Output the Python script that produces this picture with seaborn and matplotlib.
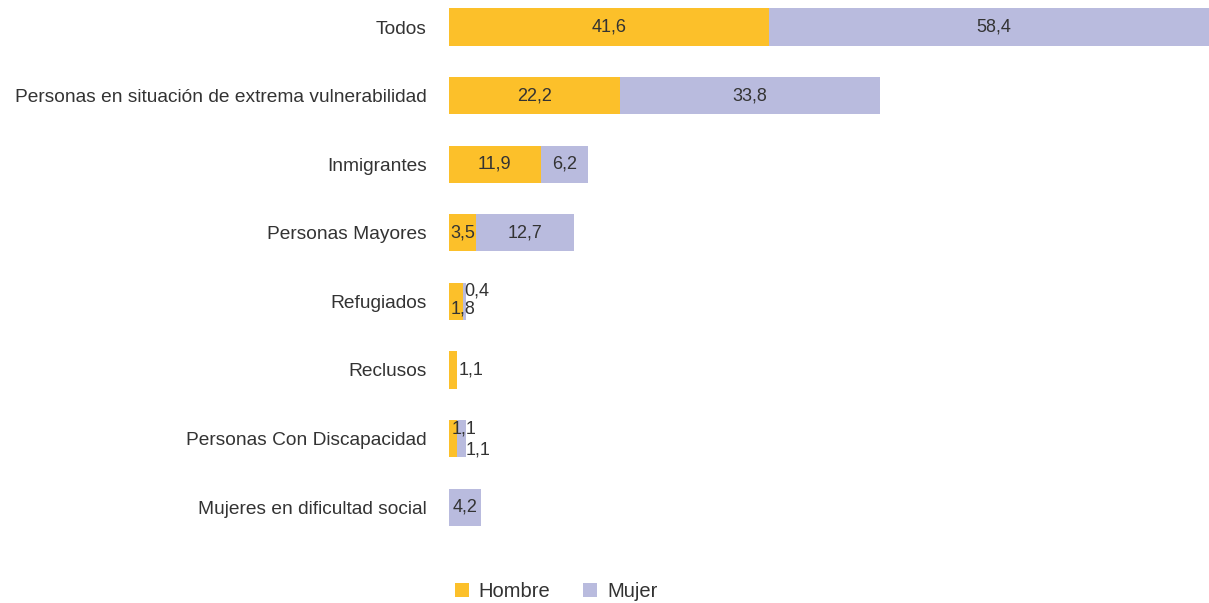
import matplotlib
matplotlib.use("Agg")
import matplotlib.pyplot as plt
from matplotlib.patches import Patch
import seaborn as sns
import pandas as pd

categorias = [
    "Todos",
    "Personas en situación de extrema vulnerabilidad",
    "Inmigrantes",
    "Personas Mayores",
    "Refugiados",
    "Reclusos",
    "Personas Con Discapacidad",
    "Mujeres en dificultad social",
]
hombre = [41.6, 22.2, 11.9, 3.5, 1.8, 1.1, 1.1, 0.0]
mujer = [58.4, 33.8, 6.2, 12.7, 0.4, 0.0, 1.1, 4.2]
series = ["Hombre", "Mujer"]

COL_H = "#FCC02A"
COL_M = "#B9BBDE"
TXT = "#333333"

sns.set_theme(style="white")
plt.rcParams["font.family"] = ["Liberation Sans", "DejaVu Sans"]

df = pd.DataFrame({"categoria": categorias, "hombre": hombre, "mujer": mujer})
df["total"] = df["hombre"] + df["mujer"]

fig = plt.figure(figsize=(12.09, 6.03), dpi=100)
ax = fig.add_axes([449 / 1209, 0.0, 1 - 449 / 1209, 1.0])

# Stacked bars: full total in the Mujer colour, Hombre drawn over it from zero
sns.barplot(data=df, y="categoria", x="total", color=COL_M, orient="h",
            width=0.54, ax=ax, saturation=1, linewidth=0)
sns.barplot(data=df, y="categoria", x="hombre", color=COL_H, orient="h",
            width=0.54, ax=ax, saturation=1, linewidth=0)

ax.set_xlim(0, 760 / 7.7)
ax.set_ylim((603 - 27) / 68.6, -27 / 68.6)
ax.set_xlabel("")
ax.set_ylabel("")
ax.set_xticks([])
for s in ax.spines.values():
    s.set_visible(False)
ax.tick_params(axis="y", length=0, pad=16, labelsize=13.8, labelcolor=TXT)


def fmt(v):
    return f"{v:.1f}".replace(".", ",")


# Placement for labels of narrow segments: (anchor, ha, dx, dy) in pixels
pequenos = {
    ("Refugiados", "Hombre"): ("end", "center", 0, -8),
    ("Refugiados", "Mujer"): ("start", "left", 1, 10),
    ("Reclusos", "Hombre"): ("end", "left", 1, 0),
    ("Personas Con Discapacidad", "Hombre"): ("end", "center", 7, 10),
    ("Personas Con Discapacidad", "Mujer"): ("end", "left", 0, -11),
}

for i, row in df.iterrows():
    segs = [("Hombre", 0.0, row["hombre"]), ("Mujer", row["hombre"], row["mujer"])]
    for nombre, inicio, valor in segs:
        if valor <= 0:
            continue
        clave = (row["categoria"], nombre)
        if clave in pequenos:
            anchor, ha, dx, dy = pequenos[clave]
            x = inicio + valor if anchor == "end" else inicio
        else:
            x, ha, dx, dy = inicio + valor / 2, "center", 0, 0
        ax.annotate(fmt(valor), xy=(x, i), xytext=(dx, dy),
                    textcoords="offset pixels", ha=ha, va="center",
                    fontsize=13, color=TXT)

handles = [Patch(facecolor=COL_H, edgecolor="none"),
           Patch(facecolor=COL_M, edgecolor="none")]
fig.legend(handles, series, loc="lower center", bbox_to_anchor=(556 / 1209, -0.027),
           ncol=2, frameon=False, fontsize=14.5, handlelength=0.7,
           handleheight=0.7, handletextpad=0.5, columnspacing=1.6,
           labelcolor=TXT)

fig.savefig("out.png", dpi=100)
